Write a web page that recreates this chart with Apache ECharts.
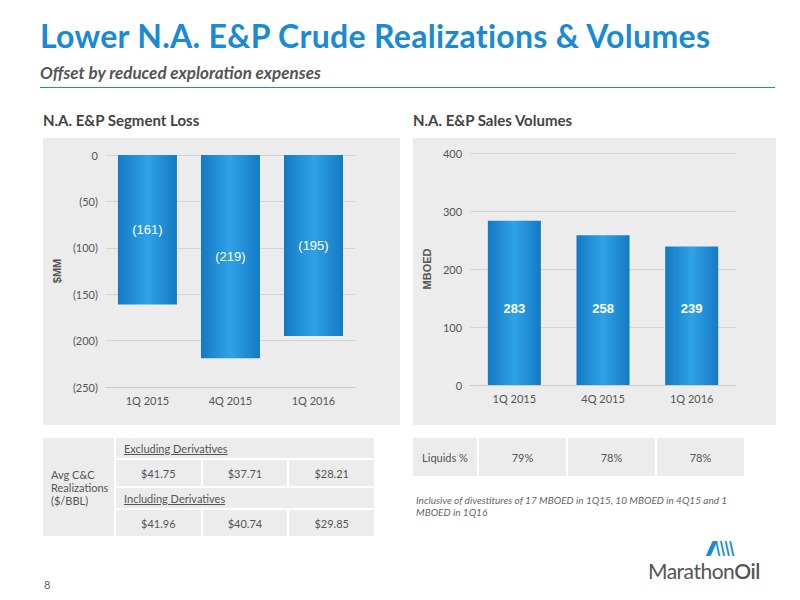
<!DOCTYPE html>
<html><head><meta charset="utf-8">
<script src="https://cdn.jsdelivr.net/npm/echarts@6/dist/echarts.min.js"></script>
<style>
body{margin:0;width:800px;height:600px;background:#fff;font-family:Lato,"Open Sans",sans-serif;position:relative;overflow:hidden}
.abs{position:absolute}
#title{left:40px;top:16px;font-size:32px;font-weight:bold;color:#1a8ad4;letter-spacing:0.3px}
#sub{left:40px;top:62px;font-size:17px;font-weight:bold;font-style:italic;color:#555}
#rule{left:40px;top:87px;width:735px;height:1px;background:#1a8ad4}
.h{font-size:15px;font-weight:bold;color:#444;top:111px}
.panel{background:#ececec}
table{border-collapse:separate;border-spacing:2px;font-size:11px;color:#555}
td{background:#ececec;text-align:center}
u{text-decoration:underline}
</style></head><body>
<div id="title" class="abs">Lower N.A. E&amp;P Crude Realizations &amp; Volumes</div>
<div id="sub" class="abs">Offset by reduced exploration expenses</div>
<div id="rule" class="abs"></div>
<div class="abs h" style="left:43px">N.A. E&amp;P Segment Loss</div>
<div class="abs h" style="left:413px">N.A. E&amp;P Sales Volumes</div>
<div id="c1" class="abs panel" style="left:43px;top:138px;width:357px;height:287px"></div>
<div id="c2" class="abs panel" style="left:413px;top:138px;width:363px;height:287px"></div>
<table class="abs" style="left:41px;top:436px;width:335px;height:86px">
<tr><td rowspan="4" style="text-align:left;padding-left:8px;width:62px;line-height:13px">Avg C&amp;C<br>Realizations<br>($/BBL)</td>
<td colspan="3" style="text-align:left;padding-left:8px;height:18px"><u>Excluding Derivatives</u></td></tr>
<tr id="ex"></tr>
<tr><td colspan="3" style="text-align:left;padding-left:8px;height:18px"><u>Including Derivatives</u></td></tr>
<tr id="inc"></tr>
</table>
<table class="abs" style="left:411px;top:436px;width:335px;height:42px">
<tr id="liq"><td style="width:62px">Liquids %</td></tr>
</table>
<div class="abs" style="left:416px;top:494px;font-size:10px;font-style:italic;color:#666;width:345px;line-height:12px">Inclusive of divestitures of 17 MBOED in 1Q15, 10 MBOED in 4Q15 and 1 MBOED in 1Q16</div>
<div class="abs" style="left:44px;top:578px;font-size:11px;color:#666">8</div>
<div class="abs" style="left:648px;top:558px;font-size:21px;color:#555;letter-spacing:-0.5px">Marathon<b style="font-weight:600">Oil</b></div>
<div class="abs" style="left:706px;top:537px;font-size:18px;color:#1a8ad4;font-weight:bold;font-style:italic;letter-spacing:-3px">////\\\\</div>
<script>
var quarters = ['1Q 2015', '4Q 2015', '1Q 2016'];
var segmentLoss = [-161, -219, -195];
var salesVolumes = [283, 258, 239];
var exDeriv = ['$41.75', '$37.71', '$28.21'];
var incDeriv = ['$41.96', '$40.74', '$29.85'];
var liquids = ['79%', '78%', '78%'];

function fillRow(id, vals) {
  var tr = document.getElementById(id);
  vals.forEach(function(v) { var td = document.createElement('td'); td.textContent = v; td.style.height = '24px'; tr.appendChild(td); });
}
fillRow('ex', exDeriv); fillRow('inc', incDeriv); fillRow('liq', liquids);

var grad = new echarts.graphic.LinearGradient(0, 0, 1, 0, [
  { offset: 0, color: '#1479c4' }, { offset: 0.5, color: '#2fa2e6' }, { offset: 1, color: '#1479c4' }]);
var axText = { color: '#555', fontSize: 11, fontFamily: 'Lato, sans-serif' };
var gridLine = { lineStyle: { color: '#d4d4d4' } };

var c1 = echarts.init(document.getElementById('c1'), null, { renderer: 'svg' });
c1.setOption({
  animation: false,
  grid: { left: 60, right: 45, top: 17, bottom: 38 },
  xAxis: { type: 'category', data: quarters, position: 'bottom', axisLabel: axText,
    axisLine: { onZero: false, lineStyle: { color: '#ccc' } }, axisTick: { show: false } },
  yAxis: { type: 'value', min: -250, max: 0, interval: 50, name: '$MM', nameLocation: 'middle', nameGap: 40,
    nameTextStyle: { color: '#555', fontSize: 11, fontWeight: 'bold' },
    axisLabel: Object.assign({ formatter: function(v) { return v < 0 ? '(' + (-v) + ')' : v; } }, axText),
    splitLine: gridLine },
  series: [{ type: 'bar', data: segmentLoss, barWidth: 59, itemStyle: { color: grad },
    label: { show: true, position: 'inside', color: '#fff', fontSize: 13,
      formatter: function(p) { return '(' + (-p.value) + ')'; } } }]
});

var c2 = echarts.init(document.getElementById('c2'), null, { renderer: 'svg' });
c2.setOption({
  animation: false,
  grid: { left: 54, right: 40, top: 15, bottom: 40 },
  xAxis: { type: 'category', data: quarters, axisLabel: axText,
    axisLine: { lineStyle: { color: '#ccc' } }, axisTick: { show: false } },
  yAxis: { type: 'value', min: 0, max: 400, interval: 100, name: 'MBOED', nameLocation: 'middle', nameGap: 34,
    nameTextStyle: { color: '#555', fontSize: 11, fontWeight: 'bold' },
    axisLabel: axText, splitLine: gridLine },
  series: [{ type: 'bar', data: salesVolumes, barWidth: 53, itemStyle: { color: grad },
    label: { show: true, position: 'insideBottom', distance: 70, color: '#fff', fontSize: 13, fontWeight: 'bold' } }]
});
</script>
</body></html>
